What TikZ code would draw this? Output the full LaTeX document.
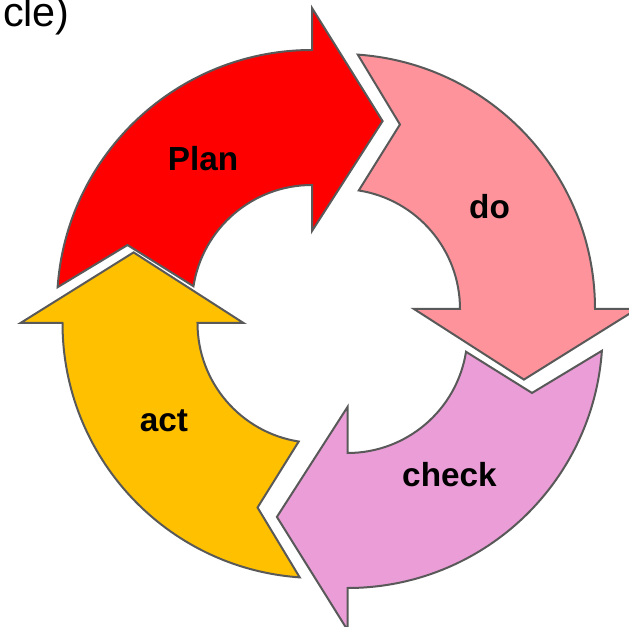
\documentclass[tikz,border=0pt]{standalone}
\usepackage{fontspec}
\setmainfont{Liberation Sans}
\usepackage{tikz}

\definecolor{plancol}{HTML}{FF0000}
\definecolor{docol}{HTML}{FF939C}
\definecolor{checkcol}{HTML}{EA9DD6}
\definecolor{actcol}{HTML}{FFC000}
\definecolor{edgegray}{HTML}{595959}

\tikzset{
  cyclearrow/.style={draw=edgegray, line width=1.5pt, line join=miter},
  steplabel/.style={anchor=base, inner sep=0pt, font=\fontsize{25}{30}\selectfont\bfseries}
}

\begin{document}
\begin{tikzpicture}[x=0.75pt,y=0.75pt,yscale=-1,xscale=1]
    %set diagram to 629 x 627
    \clip (0,0) rectangle (629,627);

    %Shape: Circular Arrow (plan)
    \draw[cyclearrow, fill=plancol, shift={(312,305)}]
        (-176:255) arc[start angle=-176, end angle=-90, radius=255]
        -- (-90:297) -- (-69:197) -- (-90:74) -- (-90:120)
        arc[start angle=-90, end angle=-171, radius=120]
        -- (-162:194) -- cycle ;
    %Shape: Circular Arrow (do)
    \draw[cyclearrow, fill=docol, shift={(340,309)}]
        (-86:255) arc[start angle=-86, end angle=0, radius=255]
        -- (0:297) -- (21:197) -- (0:74) -- (0:120)
        arc[start angle=0, end angle=-81, radius=120]
        -- (-72:194) -- cycle ;
    %Shape: Circular Arrow (check)
    \draw[cyclearrow, fill=checkcol, shift={(347.5,333)}]
        (4:255) arc[start angle=4, end angle=90, radius=255]
        -- (90:297) -- (111:197) -- (90:74) -- (90:120)
        arc[start angle=90, end angle=9, radius=120]
        -- (18:194) -- cycle ;
    %Shape: Circular Arrow (act)
    \draw[cyclearrow, fill=actcol, shift={(317.5,323)}]
        (94:255) arc[start angle=94, end angle=180, radius=255]
        -- (180:297) -- (201:197) -- (180:74) -- (180:120)
        arc[start angle=180, end angle=99, radius=120]
        -- (108:194) -- cycle ;

    % Text Node
    \node[steplabel] (plan) at (203,170.5) {Plan};
    % Text Node
    \node[steplabel] (do) at (489.5,219) {do};
    % Text Node
    \node[steplabel] (check) at (449.5,486.5) {check};
    % Text Node
    \node[steplabel] (act) at (164,431.5) {act};
    % Text Node
    \node[anchor=base east, inner sep=0pt, font=\fontsize{31}{37}\selectfont] (title) at (70,26.5) {cle)};

\end{tikzpicture}
\end{document}
